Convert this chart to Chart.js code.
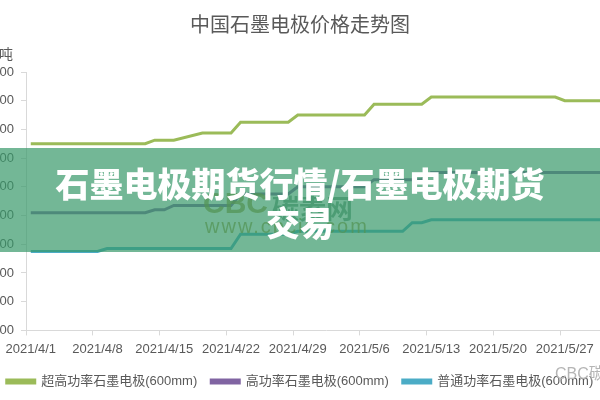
<!DOCTYPE html>
<html>
<head>
<meta charset="utf-8">
<script src="https://cdn.jsdelivr.net/npm/chart.js@4"></script>
<style>
  html, body { margin: 0; padding: 0; background: #fff; }
  body { width: 600px; height: 400px; overflow: hidden; position: relative; font-family: 'Liberation Sans', 'Noto Sans CJK SC', sans-serif; }
  #wrap { position: absolute; left: -28px; top: 0; width: 656px; height: 400px; }
  #unit { position: absolute; left: -40px; width: 53px; top: 43px; text-align: right; font-size: 14px; color: #595959; }
  .wm { position: absolute; font-weight: bold; color: rgba(150, 140, 40, 0.75); white-space: nowrap; }
  #banner { position: absolute; left: 0; top: 148px; width: 600px; height: 104px; background: rgba(56, 152, 105, 0.7); }
  #banner-text { position: absolute; left: 0; top: 163px; width: 600px; text-align: center; color: #fff; font-family: 'Noto Sans CJK SC', sans-serif; font-weight: 900; font-size: 34px; line-height: 39px; }
  #corner { position: absolute; left: 555px; top: 360px; font-size: 16px; color: #b5b5b5; white-space: nowrap; }
</style>
</head>
<body>
<div id="wrap"><canvas id="chart" width="656" height="400"></canvas></div>
<div id="unit">元/吨</div>
<div class="wm" style="left:203px; top:186px; font-size:30px;">CBC</div>
<div class="wm" style="left:272px; top:188px; font-size:27px; color: rgba(40, 110, 70, 0.6);">碳素网</div>
<div class="wm" style="left:205px; top:215px; font-size:20px; font-weight:normal; letter-spacing:2px;">www.cbcie.com</div>
<div id="banner"></div>
<div id="banner-text">石墨电极期货行情/石墨电极期货<br>交易</div>
<div id="corner">CBC碳素网</div>
<script>
const chartTitle = '中国石墨电极价格走势图';
const seriesNames = ['超高功率石墨电极(600mm)', '高功率石墨电极(600mm)', '普通功率石墨电极(600mm)'];
const seriesColors = ['#9bbb59', '#8064a2', '#4bacc6'];

// trading days with a quote (2021)
const tradeDays = [
  '4/1', '4/2', '4/6', '4/7', '4/8', '4/9', '4/12', '4/13', '4/14', '4/15', '4/16',
  '4/19', '4/20', '4/21', '4/22', '4/23', '4/25', '4/26', '4/27', '4/28', '4/29', '4/30',
  '5/6', '5/7', '5/8', '5/10', '5/11', '5/12', '5/13', '5/14', '5/17', '5/18', '5/19',
  '5/20', '5/21', '5/24', '5/25', '5/26', '5/27', '5/28', '5/31', '6/1'
];
const uhpPrice = [
  23000, 23000, 23000, 23000, 23000, 23000, 23000, 23000, 23250, 23250, 23250,
  23750, 23750, 23750, 23750, 24500, 24500, 24500, 24500, 24500, 25000, 25000,
  25000, 25750, 25750, 25750, 25750, 25750, 26250, 26250, 26250, 26250, 26250,
  26250, 26250, 26250, 26250, 26250, 26000, 26000, 26000, 26000
];
const hpPrice = [
  18200, 18200, 18200, 18200, 18200, 18200, 18200, 18200, 18400, 18400, 18700,
  18700, 18700, 18700, 18700, 19500, 19500, 19500, 19500, 19500, 20000, 20000,
  20000, 20500, 20500, 20500, 20500, 20500, 21000, 21000, 21000, 21000, 21000,
  21000, 21000, 21000, 21000, 21000, 21000, 21000, 21000, 21000
];
const rpPrice = [
  15500, 15500, 15500, 15500, 15500, 15700, 15700, 15700, 15700, 15700, 15700,
  15700, 15700, 15700, 15700, 16700, 16700, 16700, 16700, 16700, 16900, 16900,
  16900, 16900, 16900, 16900, 17500, 17500, 17700, 17700, 17700, 17700, 17700,
  17700, 17700, 17700, 17700, 17700, 17700, 17700, 17700, 17700
];
const yMin = 10000, yMax = 28000, yStep = 2000;

// calendar days on the axis, 2021/4/1 .. 2021/6/2
const dayLabels = [];
for (let d = new Date(2021, 3, 1); d <= new Date(2021, 5, 2); d.setDate(d.getDate() + 1)) {
  dayLabels.push(`${d.getFullYear()}/${d.getMonth() + 1}/${d.getDate()}`);
}

const allPrices = [uhpPrice, hpPrice, rpPrice];
const textColor = '#595959';
const axisColor = '#d9d9d9';
const font = { family: "'Liberation Sans', 'Noto Sans CJK SC', sans-serif", size: 13 };

new Chart(document.getElementById('chart'), {
  type: 'line',
  data: {
    labels: dayLabels,
    datasets: seriesNames.map((name, s) => ({
      label: name,
      data: tradeDays.map((day, i) => ({ x: '2021/' + day, y: allPrices[s][i] })),
      borderColor: seriesColors[s],
      backgroundColor: seriesColors[s],
      borderWidth: 3,
      pointRadius: 0,
      tension: 0,
      spanGaps: true
    }))
  },
  options: {
    responsive: false,
    animation: false,
    layout: { padding: { left: 0, right: 0, top: 0, bottom: 2 } },
    scales: {
      x: {
        type: 'category',
        offset: true,
        border: { color: axisColor },
        grid: {
          offset: true,
          drawOnChartArea: false,
          tickLength: 5,
          color: ctx => ctx.index % 7 === 0 ? axisColor : 'rgba(0,0,0,0)'
        },
        ticks: {
          autoSkip: false,
          maxRotation: 0,
          padding: 6,
          color: textColor,
          font: font,
          callback: function (val, idx) { return idx % 7 === 0 ? this.getLabelForValue(val) : ''; }
        },
        afterFit: scale => { scale.height -= 2; }
      },
      y: {
        min: yMin,
        max: yMax,
        border: { color: axisColor },
        grid: { drawOnChartArea: false, tickLength: 5, color: axisColor },
        ticks: { stepSize: yStep, padding: 7, color: textColor, font: font },
        afterFit: scale => { scale.width = 54; }
      }
    },
    plugins: {
      title: {
        display: true,
        text: chartTitle,
        color: textColor,
        font: { family: "'Noto Sans CJK SC', sans-serif", size: 20, weight: 'normal', lineHeight: 1.2 },
        padding: { top: 12, bottom: 36 }
      },
      legend: {
        position: 'bottom',
        labels: { boxWidth: 28, boxHeight: 3, padding: 14, color: textColor, font: font }
      },
      tooltip: { enabled: false }
    }
  }
});
</script>
</body>
</html>
